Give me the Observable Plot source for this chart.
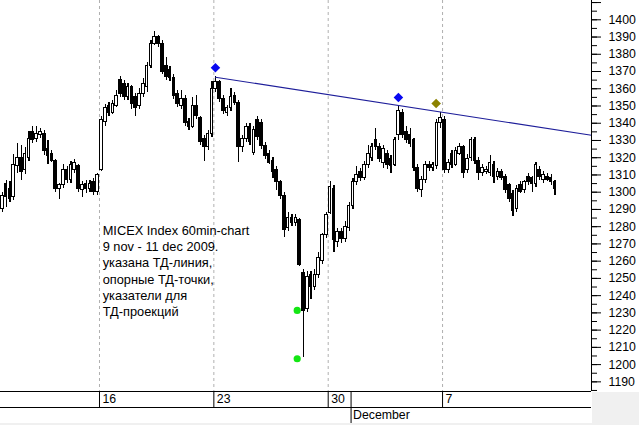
<!DOCTYPE html>
<html><head><meta charset="utf-8">
<script src="https://cdn.jsdelivr.net/npm/d3@7"></script>
<script src="https://cdn.jsdelivr.net/npm/@observablehq/plot@0.6"></script>
<style>
html,body{margin:0;padding:0;background:#f0f0f0;}
#wrap{position:relative;width:639px;height:425px;overflow:hidden;}
#corner{position:absolute;left:592px;top:392px;width:47px;height:33px;background:#f0f0f0;}
</style></head>
<body><div id="wrap"><div id="chart"></div><div id="corner"></div></div>
<script>
// MICEX Index, 60-min candles (6 per trading day), 9 Nov (partial) .. 11 Dec 2009
const open = [
 1290,1305,
 1302,1297,1315,1320,1313,1320,
 1335,1331,1333,1334,1325,1322,
 1318,1302,1304,1313,1307,1313,
 1315,1301,1305,1302,1306,1300,
 1313,1341,1350,1346,1350,1365,
 1363,1355,1361,1355,1350,1357,
 1361,1373,1386,1390,1386,1373,
 1371,1366,1357,1350,1354,1341,
 1338,1350,1343,1331,1326,1334,
 1360,1364,1354,1346,1349,1356,
 1352,1326,1331,1338,1323,1342,
 1340,1327,1322,1318,1313,1306,
 1298,1279,1285,1282,1284,1253,
 1232,1252,1245,1252,1260,1275,
 1288,1302,1271,1277,1273,1279,
 1292,1306,1312,1308,1316,1320,
 1330,1326,1317,1322,1319,1316,
 1333,1346,1335,1333,1330,1314,
 1301,1307,1316,1314,1315,1340,
 1342,1313,1322,1316,1322,1326,
 1313,1320,1330,1318,1311,1312,
 1311,1316,1309,1312,1309,1304,
 1299,1290,1304,1301,1309,1308,
 1305,1313,1307,1309,1308,1306
];
const high = [
 1300,1307,
 1306,1322,1328,1327,1326,1335,
 1338,1338,1337,1336,1330,1324,
 1319,1305,1316,1315,1318,1319,
 1316,1306,1307,1307,1308,1311,
 1344,1351,1352,1353,1359,1367,
 1365,1363,1362,1357,1360,1366,
 1375,1388,1393,1391,1388,1378,
 1373,1368,1359,1359,1356,1343,
 1355,1356,1344,1333,1336,1364,
 1367,1365,1356,1350,1360,1358,
 1353,1333,1340,1340,1338,1344,
 1342,1329,1324,1320,1315,1307,
 1300,1288,1287,1287,1285,1255,
 1254,1254,1255,1265,1276,1288,
 1306,1304,1279,1279,1283,1294,
 1308,1315,1314,1318,1327,1328,
 1337,1328,1327,1324,1321,1332,
 1350,1348,1338,1337,1331,1316,
 1309,1318,1318,1317,1342,1346,
 1344,1319,1324,1326,1328,1327,
 1322,1332,1332,1320,1316,1315,
 1321,1318,1314,1313,1310,1305,
 1301,1304,1306,1307,1311,1309,
 1317,1315,1312,1311,1310,1307
];
const low = [
 1288,1291,
 1294,1295,1311,1307,1310,1318,
 1328,1329,1331,1321,1316,1317,
 1300,1296,1302,1305,1305,1311,
 1300,1297,1299,1300,1298,1298,
 1312,1338,1344,1345,1349,1355,
 1353,1353,1348,1344,1348,1355,
 1358,1372,1385,1384,1368,1365,
 1364,1354,1349,1348,1338,1336,
 1337,1342,1327,1318,1324,1332,
 1358,1352,1345,1344,1347,1350,
 1317,1323,1329,1327,1321,1330,
 1325,1319,1316,1308,1301,1296,
 1274,1277,1280,1280,1257,1204,
 1230,1238,1243,1250,1258,1273,
 1287,1265,1268,1270,1271,1277,
 1290,1304,1306,1307,1314,1318,
 1324,1317,1314,1313,1311,1315,
 1330,1331,1328,1326,1312,1300,
 1297,1305,1312,1312,1313,1337,
 1311,1311,1314,1315,1321,1308,
 1311,1318,1316,1307,1309,1310,
 1309,1305,1307,1307,1299,1294,
 1286,1288,1299,1299,1304,1300,
 1303,1307,1305,1306,1304,1298
];
const close = [
 1298,1297,
 1296,1316,1320,1312,1322,1331,
 1330,1334,1335,1324,1321,1318,
 1302,1304,1313,1307,1316,1317,
 1302,1304,1302,1305,1300,1310,
 1342,1349,1346,1351,1356,1357,
 1355,1361,1351,1349,1357,1363,
 1373,1386,1390,1386,1370,1367,
 1366,1356,1351,1354,1340,1338,
 1350,1344,1329,1326,1334,1360,
 1364,1354,1347,1349,1355,1352,
 1326,1331,1338,1329,1336,1332,
 1327,1321,1317,1312,1306,1298,
 1278,1285,1282,1285,1258,1231,
 1251,1245,1252,1262,1275,1287,
 1303,1272,1277,1273,1280,1292,
 1306,1310,1308,1316,1322,1326,
 1326,1319,1325,1316,1315,1330,
 1347,1333,1330,1328,1314,1302,
 1307,1316,1314,1316,1340,1343,
 1313,1317,1316,1324,1326,1311,
 1319,1330,1318,1311,1314,1313,
 1317,1309,1312,1308,1301,1296,
 1289,1302,1300,1306,1306,1305,
 1316,1309,1310,1307,1306,1302
];
const barsPerDay = 6;
const firstSlot = -26;            // first bar: Nov 9, 5th hourly slot (t=0 is Mon 16 Nov)
const dayTicks = [0, 5, 10, 15];
const dayLabels = ["16", "23", "30", "7"];
const monthTicks = [11];
const monthLabels = ["December"];
const yMajor = d3.range(1190, 1411, 10);
const yMinor = d3.range(1185, 1411, 5);
const tdLineT = [5.07, 21.51], tdLineP = [1366.7, 1333.0];
const tdPointT = [5.07, 13.07], tdPointP = [1372.2, 1354.9];
const projT = [14.72], projP = [1351.4];
const supportT = [8.645, 8.645], supportP = [1231.4, 1203.4];
const note = ["MICEX Index 60min-chart", "9 nov - 11 dec 2009.", "указана ТД-линия,", "опорные ТД-точки,", "указатели для", "ТД-проекций"];
const noteT = 0.14, noteP = 1282;

const xDomain = [-4.3288, 21.5129];
const yDomain = [1184.4, 1411.19];
const plotW = 591;
const hw = 1.3 / (plotW / (xDomain[1] - xDomain[0])); // ~1.3px half body

const bars = open.map((o, i) => ({t: (i + firstSlot + 0.5) / barsPerDay, o, h: high[i], l: low[i], c: close[i]}));
const line = tdLineT.map((t, i) => ({t, p: tdLineP[i]}));
const tdPts = tdPointT.map((t, i) => ({t, p: tdPointP[i]}));
const projPts = projT.map((t, i) => ({t, p: projP[i]}));
const supPts = supportT.map((t, i) => ({t, p: supportP[i]}));
const font = "'Liberation Sans', Arial, sans-serif";

const chart = Plot.plot({
  width: 639, height: 423,
  marginLeft: 0, marginRight: 48, marginTop: 0, marginBottom: 32,
  x: {domain: xDomain, axis: null},
  y: {domain: yDomain, axis: null},
  style: {background: "white", fontFamily: font, fontSize: "12.3px", color: "black"},
  marks: [
    Plot.ruleX(dayTicks, {stroke: "#b0b0b0", strokeDasharray: "3,3"}),
    Plot.ruleX(bars, {x: "t", y1: "l", y2: "h", stroke: "black", strokeWidth: 1.2, shapeRendering: "crispEdges"}),
    Plot.rect(bars, {x1: d => d.t - hw, x2: d => d.t + hw, y1: "o", y2: "c",
      fill: d => d.c >= d.o ? "white" : "black", stroke: "black", shapeRendering: "crispEdges"}),
    Plot.line(line, {x: "t", y: "p", stroke: "#1e1e9a", strokeWidth: 1.1}),
    Plot.dot(tdPts, {x: "t", y: "p", symbol: "diamond2", r: 4.3, fill: "#0808f0", stroke: "none"}),
    Plot.dot(projPts, {x: "t", y: "p", symbol: "diamond2", r: 4.3, fill: "#8c8200", stroke: "none"}),
    Plot.dot(supPts, {x: "t", y: "p", r: 3.6, fill: "#14e614", stroke: "none"}),
    Plot.text([note.join("\n")], {x: () => noteT, y: () => noteP, text: d => d, textAnchor: "start",
      lineAnchor: "top", lineHeight: 1.27, fontSize: 12.8, fill: "black"}),
    Plot.ruleX([xDomain[1]], {stroke: "black"}),
    Plot.ruleY([yDomain[0]], {stroke: "black"}),
    Plot.ruleY([yDomain[0]], {stroke: "black", dy: 16}),
    Plot.axisY({anchor: "right", ticks: yMajor, tickSize: 9, tickPadding: 8, label: null,
      tickFormat: d => d <= 1400 ? String(d) : ""}),
    Plot.axisY({anchor: "right", ticks: yMinor, tickSize: 5, label: null, tickFormat: () => ""}),
    Plot.axisX({ticks: dayTicks, tickSize: 16, label: null, tickFormat: () => ""}),
    Plot.text(dayTicks, {x: d => d, text: (d, i) => dayLabels[i], frameAnchor: "bottom", dy: 3.1, dx: 3,
      textAnchor: "start", lineAnchor: "top", fill: "black"}),
    Plot.axisX({ticks: monthTicks, tickSize: 32, label: null, tickFormat: () => ""}),
    Plot.text(monthTicks, {x: d => d, text: (d, i) => monthLabels[i], frameAnchor: "bottom", dy: 19.1, dx: 2,
      textAnchor: "start", lineAnchor: "top", fill: "black"})
  ]
});
document.getElementById("chart").appendChild(chart);
</script>
</body></html>
